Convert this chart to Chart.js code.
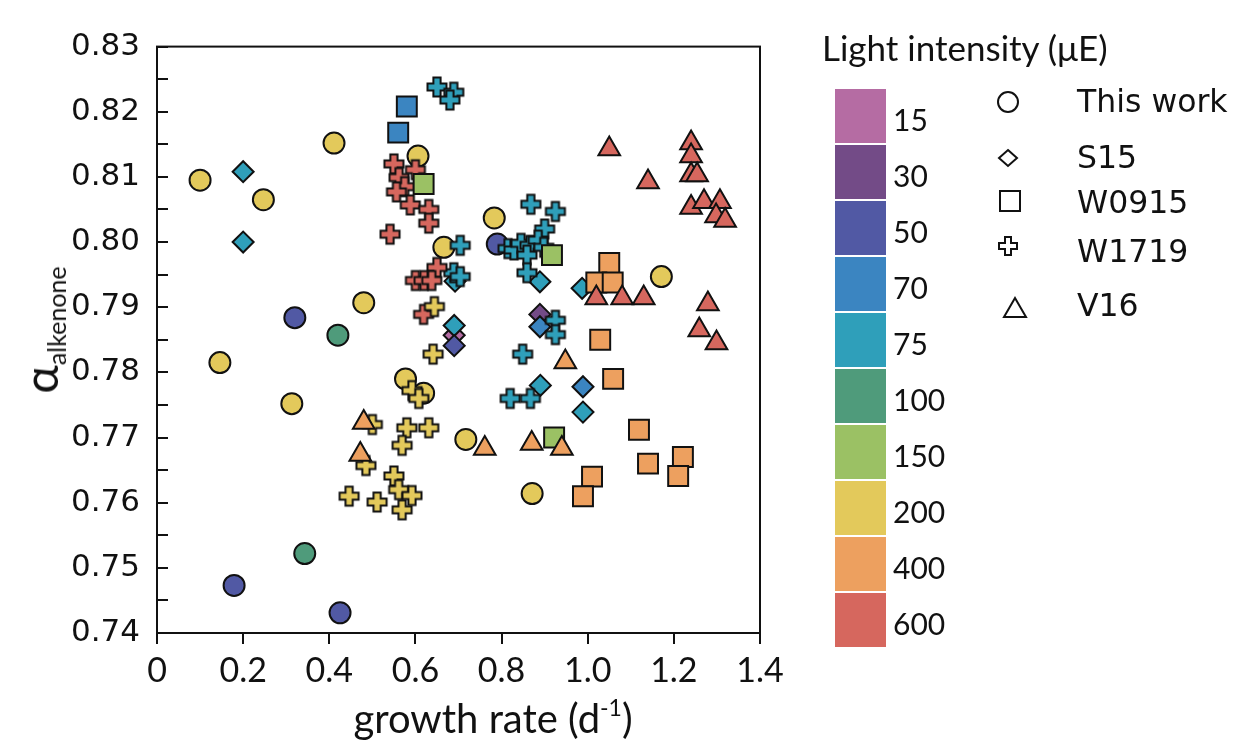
<!DOCTYPE html>
<html>
<head>
<meta charset="utf-8">
<script src="https://cdn.jsdelivr.net/npm/chart.js@4.4.1/dist/chart.umd.min.js"></script>
<style>
  body { margin: 0; background: #fff; }
  #wrap { position: relative; width: 1234px; height: 748px; overflow: hidden; font-family: Lato, sans-serif; color: #111; }
  #chart { position: absolute; left: 0; top: 0; }
  .abs { position: absolute; white-space: nowrap; line-height: 1; }
  .sw { position: absolute; left: 835px; width: 51px; height: 54px; }
  .swl { position: absolute; left: 893px; font-size: 30px; line-height: 1; }
  .shl { position: absolute; left: 1077px; font-family: 'DejaVu Sans', sans-serif; font-size: 31.5px; line-height: 1; }
</style>
</head>
<body>
<div id="wrap">
  <canvas id="chart" width="1234" height="748"></canvas>
  <div class="abs" id="ytitle" style="left:40px; top:330px; transform: translate(-50%,-50%) rotate(-90deg); transform-origin: center;">
    <span style="font-size:48px">α</span><span style="font-size:25px; position:relative; top:8px">alkenone</span>
  </div>
  <div class="abs" style="left:493px; top:696px; transform: translateX(-50%); font-size:40px">growth rate (d<sup style="font-size:23px; vertical-align: 17px">-1</sup>)</div>
  <div class="abs" style="left:822px; top:30px; font-size:35px">Light intensity (μE)</div>
  <div id="legend"></div>
</div>
<script>
// light intensity classes (µE) and the colour used for each
const lightLevels = [15, 30, 50, 70, 75, 100, 150, 200, 400, 600]
const lightColors = ['#b56ca3', '#734b87', '#5159a4', '#3b85c1', '#2f9fba', '#4f9b7b', '#9bc164', '#e3c95b', '#eda05f', '#d6675e']

// [growth rate, alpha, light]
const thisWork = [
  [0.100, 0.8095, 200], [0.247, 0.8065, 200], [0.411, 0.8152, 200], [0.606, 0.8132, 200],
  [0.783, 0.8037, 200], [0.666, 0.7992, 200], [0.480, 0.7907, 200], [0.146, 0.7815, 200],
  [0.313, 0.7752, 200], [0.577, 0.7790, 200], [0.619, 0.7768, 200], [0.717, 0.7697, 200],
  [0.871, 0.7614, 200], [1.171, 0.7947, 200],
  [0.320, 0.7884, 50], [0.179, 0.7473, 50], [0.425, 0.7431, 50], [0.790, 0.7997, 50],
  [0.420, 0.7857, 100], [0.343, 0.7522, 100]
]
const s15 = [
  [0.200, 0.8108, 75], [0.200, 0.8000, 75], [0.692, 0.7940, 75],
  [0.690, 0.7857, 15], [0.690, 0.7872, 75], [0.690, 0.7841, 50],
  [0.889, 0.7939, 75], [0.889, 0.7889, 30], [0.889, 0.7870, 70], [0.890, 0.7780, 75],
  [0.987, 0.7929, 75], [0.989, 0.7778, 70], [0.989, 0.7739, 75]
]
const w0915 = [
  [0.580, 0.8208, 70], [0.560, 0.8168, 70],
  [0.619, 0.8089, 150], [0.917, 0.7980, 150], [0.922, 0.7700, 150],
  [1.050, 0.7968, 400], [1.020, 0.7938, 400], [1.058, 0.7938, 400], [1.029, 0.7850, 400],
  [1.059, 0.7790, 400], [1.119, 0.7712, 400], [1.140, 0.7660, 400], [1.221, 0.7670, 400],
  [1.210, 0.7641, 400], [1.010, 0.7640, 400], [0.989, 0.7610, 400]
]
const w1719 = [
  [0.650, 0.8238, 75], [0.689, 0.8230, 75], [0.680, 0.8218, 75], [0.868, 0.8058, 75],
  [0.925, 0.8047, 75], [0.900, 0.8020, 75], [0.704, 0.7995, 75], [0.815, 0.7990, 75],
  [0.829, 0.7988, 75], [0.845, 0.7998, 75], [0.866, 0.7995, 75], [0.859, 0.7980, 75],
  [0.885, 0.8003, 75], [0.898, 0.7992, 75], [0.859, 0.7953, 75], [0.689, 0.7953, 75],
  [0.704, 0.7947, 75], [0.925, 0.7880, 75], [0.925, 0.7858, 75], [0.849, 0.7828, 75],
  [0.820, 0.7760, 75], [0.867, 0.7760, 75],
  [0.550, 0.8120, 600], [0.600, 0.8111, 600], [0.562, 0.8099, 600], [0.575, 0.8085, 600],
  [0.556, 0.8077, 600], [0.588, 0.8057, 600], [0.631, 0.8050, 600], [0.631, 0.8029, 600],
  [0.541, 0.8012, 600], [0.650, 0.7961, 600], [0.600, 0.7941, 600], [0.620, 0.7941, 600],
  [0.638, 0.7941, 600], [0.619, 0.7889, 600],
  [0.644, 0.7901, 200], [0.641, 0.7828, 200], [0.592, 0.7772, 200], [0.608, 0.7760, 200],
  [0.500, 0.7720, 200], [0.580, 0.7715, 200], [0.631, 0.7715, 200], [0.569, 0.7688, 200],
  [0.485, 0.7657, 200], [0.550, 0.7641, 200], [0.561, 0.7620, 200], [0.592, 0.7611, 200],
  [0.446, 0.7610, 200], [0.511, 0.7601, 200], [0.569, 0.7589, 200]
]
const v16 = [
  [1.050, 0.8143, 600], [1.140, 0.8092, 600], [1.240, 0.8152, 600], [1.240, 0.8132, 600],
  [1.240, 0.8103, 600], [1.254, 0.8103, 600], [1.240, 0.8053, 600], [1.270, 0.8062, 600],
  [1.307, 0.8062, 600], [1.298, 0.8040, 600], [1.319, 0.8033, 600], [1.020, 0.7914, 600],
  [1.080, 0.7914, 600], [1.130, 0.7914, 600], [1.279, 0.7905, 600], [1.259, 0.7865, 600],
  [1.299, 0.7845, 600],
  [0.948, 0.7816, 400], [0.940, 0.7683, 400], [0.870, 0.7691, 400], [0.761, 0.7683, 400],
  [0.480, 0.7723, 400], [0.472, 0.7674, 400]
]
const studies = ['This work', 'S15', 'W0915', 'W1719', 'V16']

function colorFor(light){
    return lightColors[lightLevels.indexOf(light)]
}

// outlined plus sign used for W1719
function plusIcon(fill){
    let c = document.createElement('canvas')
    c.width = 26; c.height = 26
    let g = c.getContext('2d')
    let m = 13, a = 9.5, t = 3.6
    let pts = [[-t,-a],[t,-a],[t,-t],[a,-t],[a,t],[t,t],[t,a],[-t,a],[-t,t],[-a,t],[-a,-t],[-t,-t]]
    g.beginPath()
    pts.forEach((p, i) => i ? g.lineTo(m+p[0], m+p[1]) : g.moveTo(m+p[0], m+p[1]))
    g.closePath()
    if (fill) { g.fillStyle = fill; g.fill() }
    g.lineWidth = 2
    g.strokeStyle = '#111'
    g.stroke()
    return c
}

function makeSet(label, rows, style, radius, order){
    return {
        label: label,
        data: rows.map(r => ({x: r[0], y: r[1]})),
        backgroundColor: rows.map(r => colorFor(r[2])),
        borderColor: '#111',
        borderWidth: 2,
        pointStyle: style === 'plus' ? rows.map(r => plusIcon(colorFor(r[2]))) : style,
        pointRadius: radius,
        order: order
    }
}

const boxPlugin = {
    id: 'box',
    afterDraw(chart){
        const a = chart.chartArea
        const ctx = chart.ctx
        ctx.save()
        ctx.strokeStyle = '#111'
        ctx.lineWidth = 2
        ctx.strokeRect(a.left, a.top, a.right - a.left, a.bottom - a.top)
        ctx.restore()
    }
}

const config = {
    type: 'scatter',
    data: {
        datasets: [
            makeSet(studies[0], thisWork, 'circle', 10.5, 5),
            makeSet(studies[1], s15, 'rectRot', 10.5, 4),
            makeSet(studies[3], w1719, 'plus', 10, 3),
            makeSet(studies[2], w0915, 'rect', 14.1, 2),
            makeSet(studies[4], v16, 'triangle', 12.5, 1)
        ]
    },
    options: {
        responsive: false,
        animation: false,
        events: [],
        layout: { padding: { left: 0, right: 474, top: 28, bottom: 0 } },
        plugins: { legend: { display: false }, tooltip: { enabled: false } },
        scales: {
            x: {
                type: 'linear', min: 0, max: 1.4,
                afterFit: s => { s.height = 115 },
                border: { display: false },
                grid: { drawOnChartArea: false, drawTicks: true, tickLength: 11, color: '#111', lineWidth: 2 },
                ticks: {
                    stepSize: 0.2, autoSkip: false, maxRotation: 0, padding: 7, color: '#111',
                    font: { family: 'Lato', size: 34 },
                    callback: v => v === 0 ? '0' : v.toFixed(1)
                }
            },
            y: {
                type: 'linear', min: 0.74, max: 0.83,
                afterFit: s => { s.width = 157 },
                border: { display: false },
                grid: { drawOnChartArea: false, drawTicks: true, tickLength: -11, color: '#111', lineWidth: 2 },
                ticks: {
                    stepSize: 0.005, autoSkip: false, padding: 28, color: '#111',
                    font: { family: 'DejaVu Sans', size: 31 },
                    callback: (v, i) => i % 2 === 0 ? v.toFixed(2) : ''
                }
            }
        }
    },
    plugins: [boxPlugin]
}

new Chart(document.getElementById('chart').getContext('2d'), config)

// colour key and symbol key
let legend = document.getElementById('legend')
let html = ''
lightLevels.forEach((l, i) => {
    let top = 89 + i * 56
    html += `<div class="sw" style="top:${top}px; background:${lightColors[i]}"></div>`
    html += `<div class="swl" style="top:${top + 15}px">${l}</div>`
})
const icons = [
    '<circle cx="13" cy="13" r="10" fill="none" stroke="#111" stroke-width="2"/>',
    '<polygon points="13,5 22,13 13,21 4,13" fill="none" stroke="#111" stroke-width="2"/>',
    '<rect x="3" y="3" width="20" height="20" fill="none" stroke="#111" stroke-width="2"/>',
    '<polygon points="10,4 16,4 16,10 22,10 22,16 16,16 16,22 10,22 10,16 4,16 4,10 10,10" fill="none" stroke="#111" stroke-width="2"/>',
    '<polygon points="13,3 24,22 2,22" fill="none" stroke="#111" stroke-width="2"/>'
]
const iconPos = [[1008, 102], [1008, 158], [1010, 201], [1008, 246], [1015, 308]]
const labelY = [102, 158, 203, 252, 306]
studies.forEach((s, i) => {
    html += `<svg style="position:absolute; left:${iconPos[i][0] - 13}px; top:${iconPos[i][1] - 13}px" width="26" height="26">${icons[i]}</svg>`
    html += `<div class="shl" style="top:${labelY[i] - 16}px">${s}</div>`
})
legend.innerHTML = html
</script>
</body>
</html>
